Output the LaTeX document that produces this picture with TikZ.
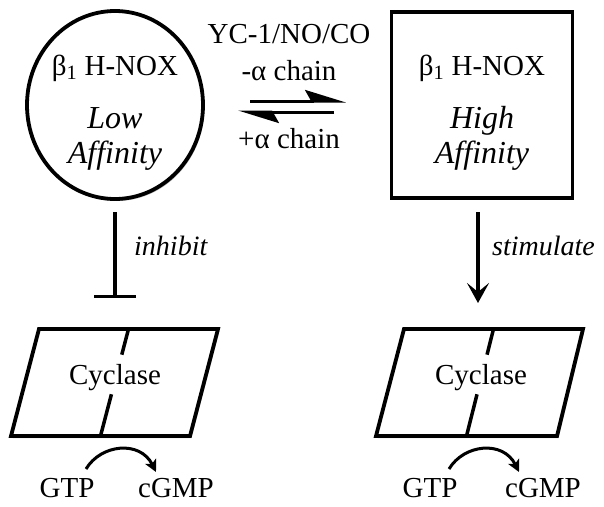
\documentclass[tikz,border=0pt]{standalone}
\usepackage{fontspec}
\setmainfont{Liberation Serif}
\usetikzlibrary{arrows.meta,shapes.geometric,shadows,calc}
\begin{document}
\begin{tikzpicture}[x=1pt,y=-1pt,
  lbl/.style={font=\fontsize{29}{31}\selectfont, inner sep=0pt, anchor=base},
  ilbl/.style={font=\fontsize{28}{30}\selectfont\itshape, inner sep=0pt, anchor=base},
  blbl/.style={font=\fontsize{32}{34}\selectfont\itshape, inner sep=0pt, anchor=base},
  shp/.style={draw, line width=3.8pt, fill=white,
    drop shadow={shadow xshift=1.5pt, shadow yshift=-2pt, opacity=0.3, fill=black}},
  harp/.style={line width=3pt, -{Stealth[harpoon, length=36pt, width=22pt, inset=6pt]}},
  inh/.style={line width=3.5pt, -{Bar[width=42pt, line width=3.5pt]}},
  stim/.style={line width=3.5pt, -{Stealth[length=20pt, width=22pt, inset=9pt]}},
  conv/.style={line width=3pt, -{Stealth[length=12pt, width=12pt, inset=3pt]}},
  divl/.style={line width=3.5pt}
]
\useasboundingbox (0,0) rectangle (604,506);

% top shapes
\node[shp, ellipse, minimum width=176pt, minimum height=188pt, inner sep=0pt] (low) at (115,105) {};
\node[shp, rectangle, minimum width=181pt, minimum height=186pt, inner sep=0pt] (high) at (482,105) {};

\node[lbl] (lowname) at (115,75) {β\textsubscript{1} H-NOX};
\node[blbl] (lowa) at (115,128) {Low};
\node[blbl] (lowb) at (115,163) {Affinity};
\node[lbl] (highname) at (482,75) {β\textsubscript{1} H-NOX};
\node[blbl] (higha) at (482,128) {High};
\node[blbl] (highb) at (482,163) {Affinity};

% equilibrium
\node[lbl] (yc) at (289,43) {YC-1/NO/CO};
\node[lbl] (minus) at (289,80) {-α chain};
\node[lbl] (plus) at (289,148) {+α chain};
\coordinate (fs) at (250,101);
\coordinate (fe) at (346,101);
\coordinate (bs) at (334,112);
\coordinate (be) at (238,112);
\draw[harp] (fs) -- (fe);
\draw[harp] (bs) -- (be);

% parallelograms
\coordinate (lbl1) at (11,436);  \coordinate (lbr1) at (190,436);
\coordinate (ltr1) at (218,329); \coordinate (ltl1) at (39,329);
\coordinate (rbl1) at (376,436); \coordinate (rbr1) at (557,436);
\coordinate (rtr1) at (583,329); \coordinate (rtl1) at (404,329);
\path[shp, line join=miter] (lbl1) -- (lbr1) -- (ltr1) -- (ltl1) -- cycle;
\path[shp, line join=miter] (rbl1) -- (rbr1) -- (rtr1) -- (rtl1) -- cycle;

\coordinate (ltop) at ($(ltl1)!0.5!(ltr1)$);
\coordinate (lbot) at ($(lbl1)!0.5!(lbr1)$);
\coordinate (rtop) at ($(rtl1)!0.5!(rtr1)$);
\coordinate (rbot) at ($(rbl1)!0.5!(rbr1)$);
\draw[divl] (ltop) -- ($(ltop)!0.24!(lbot)$);
\draw[divl] ($(ltop)!0.61!(lbot)$) -- (lbot);
\draw[divl] (rtop) -- ($(rtop)!0.24!(rbot)$);
\draw[divl] ($(rtop)!0.61!(rbot)$) -- (rbot);

\node[lbl] (cycl) at (115,384) {Cyclase};
\node[lbl] (cycr) at (481,384) {Cyclase};

% inhibit / stimulate
\coordinate (inhs) at (115,212);
\coordinate (inhe) at (115,298);
\coordinate (stims) at (478,212);
\coordinate (stime) at (478,303);
\draw[inh] (inhs) -- (inhe);
\draw[stim] (stims) -- (stime);
\node[ilbl, anchor=base west] (inhtxt) at (134,255) {inhibit};
\node[ilbl, anchor=base west] (stimtxt) at (492,255) {stimulate};

% GTP -> cGMP
\node[lbl] (gtpl) at (67,497) {GTP};
\node[lbl] (cgmpl) at (176,497) {cGMP};
\node[lbl] (gtpr) at (430,497) {GTP};
\node[lbl] (cgmpr) at (543,497) {cGMP};
\coordinate (las) at (86,469); \coordinate (lae) at (156,472);
\coordinate (ras) at (449,469); \coordinate (rae) at (519,472);
\draw[conv] (las) .. controls (101,444) and (140,440) .. (lae);
\draw[conv] (ras) .. controls (464,444) and (503,440) .. (rae);
\end{tikzpicture}
\end{document}
